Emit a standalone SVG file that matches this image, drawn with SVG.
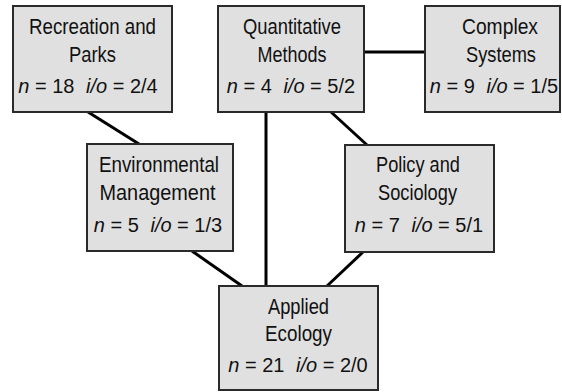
<svg xmlns="http://www.w3.org/2000/svg" width="562" height="392" viewBox="0 0 562 392">
<style>
.box{fill:#e0e0e0;stroke:#2a2a2a;stroke-width:2}
.edge{stroke:#000;stroke-width:3;fill:none}
text{font-family:"Liberation Sans",Arial,sans-serif;font-size:22px;fill:#111;text-anchor:middle}
text.s{font-size:20px}
.i{font-style:italic}
</style>
<rect width="562" height="392" fill="#fff"/>
<g id="connectors">
<line class="edge" x1="364" y1="52" x2="425" y2="52"/>
<line class="edge" x1="88" y1="112" x2="139" y2="144"/>
<line class="edge" x1="331" y1="112" x2="367" y2="145"/>
<line class="edge" x1="266" y1="112" x2="266" y2="286"/>
<line class="edge" x1="192" y1="251" x2="242" y2="286"/>
<line class="edge" x1="363" y1="252" x2="327" y2="286"/>
</g>
<g id="recreation">
<rect class="box" x="13" y="6" width="159" height="106"/>
<text x="92.5" y="34" textLength="127" lengthAdjust="spacingAndGlyphs">Recreation and</text>
<text x="92.5" y="62" textLength="47" lengthAdjust="spacingAndGlyphs">Parks</text>
<text class="s" x="88" y="93"><tspan class="i">n</tspan> = 18 <tspan class="i" dx="6">i/o</tspan> = 2/4</text>
</g>
<g id="quantitative">
<rect class="box" x="218" y="6" width="146" height="106"/>
<text x="292" y="34" textLength="98" lengthAdjust="spacingAndGlyphs">Quantitative</text>
<text x="292" y="62" textLength="69" lengthAdjust="spacingAndGlyphs">Methods</text>
<text class="s" x="291" y="93"><tspan class="i">n</tspan> = 4 <tspan class="i" dx="6">i/o</tspan> = 5/2</text>
</g>
<g id="complex">
<rect class="box" x="425" y="6" width="135" height="106"/>
<text x="500" y="34" textLength="76" lengthAdjust="spacingAndGlyphs">Complex</text>
<text x="501" y="62" textLength="70" lengthAdjust="spacingAndGlyphs">Systems</text>
<text class="s" x="494" y="93"><tspan class="i">n</tspan> = 9 <tspan class="i" dx="6">i/o</tspan> = 1/5</text>
</g>
<g id="environmental">
<rect class="box" x="87" y="144" width="146" height="107"/>
<text x="159" y="172" textLength="120" lengthAdjust="spacingAndGlyphs">Environmental</text>
<text x="157.5" y="200" textLength="116" lengthAdjust="spacingAndGlyphs">Management</text>
<text class="s" x="158" y="232"><tspan class="i">n</tspan> = 5 <tspan class="i" dx="6">i/o</tspan> = 1/3</text>
</g>
<g id="policy">
<rect class="box" x="345" y="145" width="149" height="107"/>
<text x="418" y="172" textLength="84" lengthAdjust="spacingAndGlyphs">Policy and</text>
<text x="417.5" y="200" textLength="79" lengthAdjust="spacingAndGlyphs">Sociology</text>
<text class="s" x="419" y="232"><tspan class="i">n</tspan> = 7 <tspan class="i" dx="6">i/o</tspan> = 5/1</text>
</g>
<g id="applied">
<rect class="box" x="219" y="286" width="159" height="104"/>
<text x="298.5" y="314" textLength="61" lengthAdjust="spacingAndGlyphs">Applied</text>
<text x="298.5" y="341" textLength="67" lengthAdjust="spacingAndGlyphs">Ecology</text>
<text class="s" x="298" y="372"><tspan class="i">n</tspan> = 21 <tspan class="i" dx="6">i/o</tspan> = 2/0</text>
</g>
</svg>
